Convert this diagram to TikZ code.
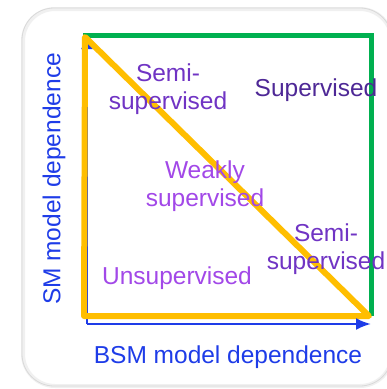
\documentclass[tikz,border=0pt]{standalone}
\usepackage{fontspec}
\setmainfont{Liberation Sans}
\usepackage{tikz}
\usetikzlibrary{calc}
\usetikzlibrary{arrows.meta}
\usetikzlibrary{positioning}
\usepackage{color}
\definecolor{axisblue}{RGB}{30, 60, 232}
\definecolor{emerald}{RGB}{0, 176, 80}
\definecolor{amber}{RGB}{255, 190, 0}
\definecolor{plum}{RGB}{78, 40, 150}
\definecolor{violet}{RGB}{112, 52, 196}
\definecolor{lilac}{RGB}{162, 72, 232}

\tikzset{
    region/.style={align=center, font=\fontsize{24.5}{28}\selectfont, inner sep=0pt},
    axislabel/.style={color=axisblue, font=\fontsize{24.5}{28}\selectfont, inner sep=0pt},
    axisarrow/.style={color=axisblue, line width=2.4pt, -{Latex[length=15pt, width=12pt]}}
}

\begin{document}
\begin{tikzpicture}[x=1pt, y=-1pt]
            \useasboundingbox (0,0) rectangle (387,389);
            % card behind the plot
            \filldraw[color=gray!12, line width=4pt, fill=white, rounded corners=32pt] (23,9) rectangle (392,386);
            \draw[color=gray!30, line width=0.8pt, rounded corners=32pt] (22,8) rectangle (392,386);

            \coordinate (origin) at (87,324);
            \coordinate (ytip)   at (87,34);
            \coordinate (xtip)   at (371,324);

            % vertical axis sits under the triangle
            \draw[axisarrow] (origin) -- (ytip);

            % supervised square and unsupervised triangle
            \draw[color=emerald, line width=5pt, line join=miter] (83,35) -- (371,35) -- (371,316);
            \draw[color=amber, line width=6pt, line join=round] (85,37) -- (84,316) -- (369,316) -- cycle;

            \draw[axisarrow] (origin) -- (xtip);

            \node[region, color=violet] (semiA) at (168,89) {Semi-\\supervised};
            \node[region, color=plum]   (sup)   at (316,90) {Supervised};
            \node[region, color=lilac]  (weak)  at (205,186) {Weakly\\supervised};
            \node[region, color=violet] (semiB) at (326,249) {Semi-\\supervised};
            \node[region, color=lilac]  (unsup) at (177,278) {Unsupervised};

            \node[axislabel] (xlabel) at (228,357) {BSM model dependence};
            \node[axislabel, rotate=90] (ylabel) at (54,179) {SM model dependence};
        \end{tikzpicture}
\end{document}
